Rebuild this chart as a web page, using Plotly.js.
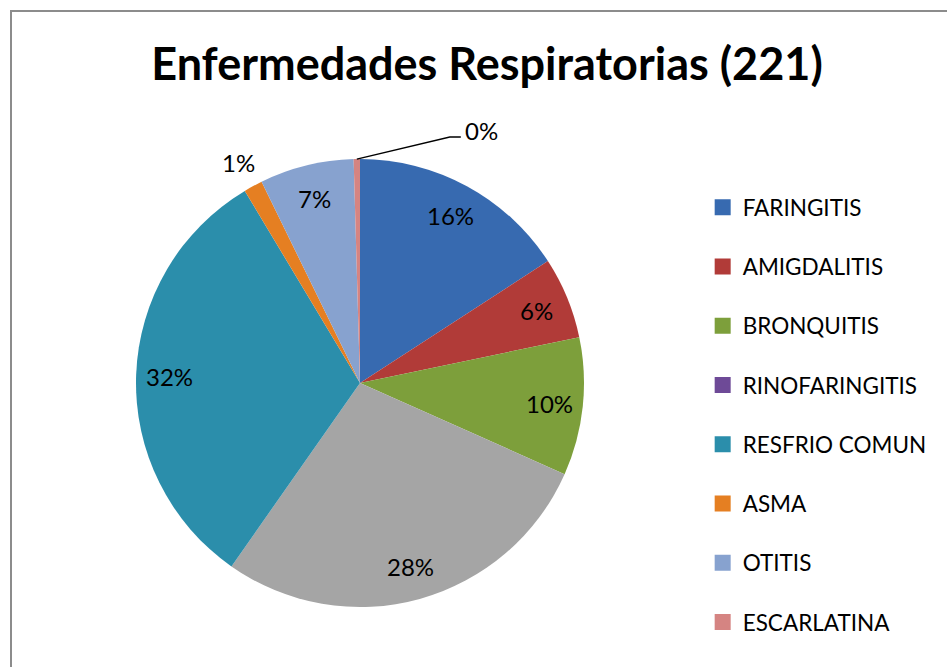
<!DOCTYPE html>
<html><head><meta charset="utf-8">
<script src="https://cdn.plot.ly/plotly-3.0.1.min.js"></script>
<style>html,body{margin:0;padding:0;background:#fff;overflow:hidden}#chart{width:947px;height:667px}</style>
</head><body><div id="chart"></div>
<script>
// ---- data ----
const chartTitle = 'Enfermedades Respiratorias (221)';
const categories = ['FARINGITIS','AMIGDALITIS','BRONQUITIS','RINOFARINGITIS','RESFRIO COMUN','ASMA','OTITIS','ESCARLATINA'];
const cases = [35, 13, 22, 62, 70, 3, 15, 1];
const sliceColors  = ['#376AB0','#B13B38','#7D9F3B','#A5A5A5','#2B8EAB','#E57F22','#87A2CF','#D58482'];
const legendColors = ['#376AB0','#B13B38','#7D9F3B','#6E4A97','#2B8EAB','#E57F22','#87A2CF','#D58482'];

// ---- geometry / style ----
const W = 947, H = 667;
const pieBox = {left: 136, top: 159, size: 448};
const cx = pieBox.left + pieBox.size / 2, cy = pieBox.top + pieBox.size / 2, R = pieBox.size / 2;
const px = x => x / W, py = y => 1 - y / H;
const total = cases.reduce((a, b) => a + b, 0);
const labelFont = {family: 'Lato, "Open Sans", sans-serif', size: 24, color: '#000'};

const traces = [{
  type: 'pie', labels: categories, values: cases, sort: false, direction: 'clockwise', rotation: 0,
  marker: {colors: sliceColors, line: {width: 0}}, textinfo: 'none', showlegend: false,
  hoverinfo: 'label+value+percent',
  domain: {x: [px(pieBox.left), px(pieBox.left + pieBox.size)], y: [py(pieBox.top + pieBox.size), py(pieBox.top)]}
}];
categories.forEach((c, i) => traces.push({
  type: 'scatter', mode: 'markers', x: [null], y: [null], name: c, legendgroup: 'g' + i,
  marker: {symbol: 'square', size: 16, color: legendColors[i]}, hoverinfo: 'skip'
}));

const annotations = [];
const shapes = [{
  type: 'path', xref: 'paper', yref: 'paper',
  path: `M ${px(11)} ${py(H + 5)} L ${px(11)} ${py(11)} L ${px(W + 5)} ${py(11)}`,
  line: {color: '#8c8c8c', width: 2}
}];
let cum = 0;
cases.forEach((v, i) => {
  const share = v / total;
  const mid = (cum + v / 2) / total * 2 * Math.PI; cum += v;
  const sx = Math.sin(mid), sy = -Math.cos(mid);
  const txt = Math.round(share * 100) + '%';
  if (share >= 0.03) {
    annotations.push({xref: 'paper', yref: 'paper', x: px(cx + 0.85 * R * sx), y: py(cy + 0.85 * R * sy),
      text: txt, showarrow: false, xanchor: 'center', yanchor: 'middle', font: labelFont});
  } else if (share >= 0.01) {
    annotations.push({xref: 'paper', yref: 'paper', x: px(cx + 1.12 * R * sx - 2), y: py(cy + 1.12 * R * sy),
      text: txt, showarrow: false, xanchor: 'center', yanchor: 'middle', font: labelFont});
  } else {
    const x0 = cx + R * sx, y0 = cy + R * sy;
    const x1 = x0 + 93, y1 = y0 - 22, x2 = x1 + 11;
    shapes.push({type: 'path', xref: 'paper', yref: 'paper',
      path: `M ${px(x0)} ${py(y0)} L ${px(x1)} ${py(y1)} L ${px(x2)} ${py(y1)}`,
      line: {color: '#000', width: 1.3}});
    annotations.push({xref: 'paper', yref: 'paper', x: px(x2 + 2), y: py(y1 - 7),
      text: txt, showarrow: false, xanchor: 'left', yanchor: 'middle', font: labelFont});
  }
});

const layout = {
  width: W, height: H, margin: {l: 0, r: 0, t: 0, b: 0},
  paper_bgcolor: '#fff', plot_bgcolor: '#fff',
  title: {text: chartTitle, x: px(487), xanchor: 'center', y: py(64), yanchor: 'middle',
    font: {family: 'Lato, "Open Sans", sans-serif', size: 45, weight: 'bold', color: '#000'}},
  xaxis: {visible: false}, yaxis: {visible: false},
  showlegend: true,
  legend: {x: 0.742, y: py(186), xanchor: 'left', yanchor: 'top', tracegroupgap: 27,
    font: {family: 'Lato, "Open Sans", sans-serif', size: 22.5, color: '#000'}, bgcolor: 'rgba(0,0,0,0)'},
  annotations: annotations, shapes: shapes
};
Plotly.newPlot('chart', traces, layout, {displayModeBar: false, staticPlot: true});
</script></body></html>
